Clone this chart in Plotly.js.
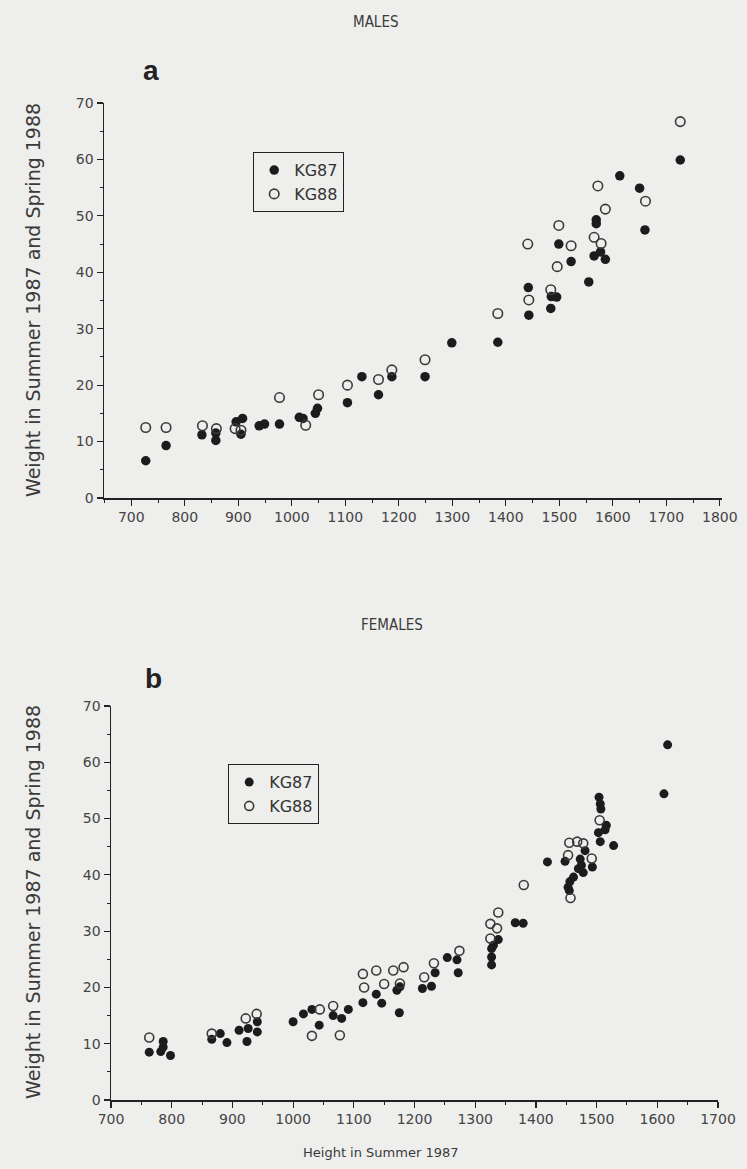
<!DOCTYPE html>
<html>
<head>
<meta charset="utf-8">
<script src="https://cdn.plot.ly/plotly-3.0.1.min.js"></script>
<style>html,body{margin:0;padding:0;background:#eeeeec;}#chart{width:747px;height:1169px;}</style>
</head>
<body>
<div id="chart"></div>
<script>
// ---- Data ----
var malesKG87Height = [727,765,832,858,858,896,908,905,939,949,977,1014,1021,1044,1048,1104,1131,1162,1187,1249,1299,1385,1443,1442,1484,1485,1495,1499,1522,1555,1565,1569,1569,1577,1586,1613,1650,1660,1726];
var malesKG87Weight = [6.6,9.3,11.2,11.5,10.2,13.5,14.1,11.3,12.8,13.1,13.1,14.3,14.1,15.0,15.9,16.9,21.5,18.3,21.5,21.5,27.5,27.6,32.4,37.3,33.6,35.7,35.6,45.0,41.9,38.3,42.9,49.3,48.6,43.6,42.3,57.1,54.9,47.5,59.9];
var malesKG88Height = [727,765,833,859,894,905,977,1026,1050,1104,1162,1187,1249,1385,1443,1484,1496,1499,1441,1522,1565,1578,1572,1586,1661,1726];
var malesKG88Weight = [12.5,12.5,12.8,12.3,12.3,12.0,17.8,12.9,18.3,20.0,21.0,22.7,24.5,32.7,35.1,36.9,41.0,48.3,45.0,44.7,46.2,45.1,55.3,51.2,52.6,66.7];

var femalesKG87Height = [763,782,786,786,798,866,880,891,911,924,926,941,941,1000,1017,1031,1043,1066,1080,1091,1115,1137,1146,1171,1176,1175,1213,1228,1234,1254,1270,1272,1338,1330,1327,1327,1327,1366,1379,1419,1448,1453,1455,1456,1462,1470,1473,1475,1478,1481,1493,1503,1504,1506,1507,1506,1514,1516,1528,1611,1617];
var femalesKG87Weight = [8.5,8.6,10.4,9.4,7.9,10.8,11.8,10.2,12.4,10.4,12.7,13.9,12.1,13.9,15.3,16.1,13.3,15.0,14.5,16.1,17.3,18.8,17.2,19.5,20.1,15.5,19.8,20.2,22.6,25.3,24.9,22.6,28.5,27.5,26.9,25.4,24.0,31.5,31.4,42.3,42.4,37.8,37.2,38.8,39.6,41.1,42.8,41.7,40.4,44.3,41.4,47.5,53.8,52.6,51.7,45.9,48.0,48.8,45.2,54.4,63.1];
var femalesKG88Height = [763,866,922,940,1031,1044,1066,1077,1115,1117,1137,1150,1165,1182,1176,1216,1232,1274,1325,1338,1336,1325,1380,1453,1455,1468,1478,1492,1457,1505];
var femalesKG88Weight = [11.1,11.8,14.5,15.3,11.4,16.1,16.7,11.5,22.4,20.0,23.0,20.6,23.0,23.6,20.7,21.8,24.3,26.5,31.3,33.3,30.5,28.7,38.2,43.5,45.7,45.9,45.6,42.9,35.9,49.7];

var seriesNames = ['KG87', 'KG88'];
var yTickVals = [0,10,20,30,40,50,60,70];
var xTickValsTop = [700,800,900,1000,1100,1200,1300,1400,1500,1600,1700,1800];
var xTickValsBottom = [700,800,900,1000,1100,1200,1300,1400,1500,1600,1700];
var panelTitles = ['MALES', 'FEMALES'];
var panelLetters = ['a', 'b'];
var xTitle = 'Height in Summer 1987';
var yTitle = 'Weight in Summer 1987 and Spring 1988';

// ---- Layout helpers ----
var W = 747, H = 1169;
function px(x){ return x / W; }
function py(y){ return 1 - y / H; }

var ink = '#222';
var txt = '#3a3a3a';
var tickFont = {family: 'DejaVu Sans, sans-serif', size: 14, color: '#444'};

var filled = {symbol: 'circle', size: 9.5, color: '#1c1c1c', line: {width: 0}};
var open = {symbol: 'circle-open', size: 9.5, color: '#3a3a3a', line: {width: 1.6}};

var traces = [
  {x: malesKG87Height, y: malesKG87Weight, name: seriesNames[0], type: 'scatter', mode: 'markers', marker: filled, xaxis: 'x', yaxis: 'y', legend: 'legend'},
  {x: malesKG88Height, y: malesKG88Weight, name: seriesNames[1], type: 'scatter', mode: 'markers', marker: open, xaxis: 'x', yaxis: 'y', legend: 'legend'},
  {x: femalesKG87Height, y: femalesKG87Weight, name: seriesNames[0], type: 'scatter', mode: 'markers', marker: Object.assign({}, filled, {size: 9}), xaxis: 'x2', yaxis: 'y2', legend: 'legend2'},
  {x: femalesKG88Height, y: femalesKG88Weight, name: seriesNames[1], type: 'scatter', mode: 'markers', marker: Object.assign({}, open, {size: 9}), xaxis: 'x2', yaxis: 'y2', legend: 'legend2'}
];

function xAxis(domain, range, vals, anchor){
  return {domain: domain, range: range, anchor: anchor, tickvals: vals, ticktext: vals.map(String),
    showline: true, linecolor: ink, linewidth: 1.5, ticks: 'outside', ticklen: 6, tickwidth: 1.2, tickcolor: ink,
    minor: {dtick: 50, ticks: 'outside', ticklen: 3, tickwidth: 1, tickcolor: ink, showgrid: false},
    showgrid: false, zeroline: false, tickfont: tickFont, fixedrange: true};
}
function yAxis(domain, anchor){
  return {domain: domain, range: [0, 70], anchor: anchor, tickvals: yTickVals, ticktext: yTickVals.map(String),
    showline: true, linecolor: ink, linewidth: 1.5, ticks: 'outside', ticklen: 6, tickwidth: 1.2, tickcolor: ink,
    minor: {dtick: 5, ticks: 'outside', ticklen: 3, tickwidth: 1, tickcolor: ink, showgrid: false},
    showgrid: false, zeroline: false, tickfont: tickFont, fixedrange: true};
}

var legendFont = {family: 'DejaVu Sans, sans-serif', size: 16, color: '#333'};

function ann(text, x, y, size, opts){
  var a = {text: text, x: px(x), y: py(y), xref: 'paper', yref: 'paper', showarrow: false,
    xanchor: 'center', yanchor: 'middle',
    font: {family: 'DejaVu Sans Condensed, sans-serif', size: size, color: txt}};
  return Object.assign(a, opts || {});
}

var layout = {
  width: W, height: H,
  margin: {l: 0, r: 0, t: 0, b: 0},
  paper_bgcolor: '#eeeeec', plot_bgcolor: 'rgba(0,0,0,0)',
  showlegend: true,
  xaxis: xAxis([px(104), px(722)], [649, 1804], xTickValsTop, 'y'),
  yaxis: yAxis([py(498), py(103)], 'x'),
  xaxis2: xAxis([px(111), px(718)], [700, 1700], xTickValsBottom, 'y2'),
  yaxis2: yAxis([py(1100), py(706)], 'x2'),
  legend: {x: px(253), y: py(152), xanchor: 'left', yanchor: 'top', bgcolor: 'rgba(0,0,0,0)', bordercolor: ink, borderwidth: 1.2, font: legendFont, tracegroupgap: 0, itemwidth: 30},
  legend2: {x: px(228), y: py(764), xanchor: 'left', yanchor: 'top', bgcolor: 'rgba(0,0,0,0)', bordercolor: ink, borderwidth: 1.2, font: legendFont, tracegroupgap: 0, itemwidth: 30},
  annotations: [
    ann(panelTitles[0], 375, 22, 15),
    ann(panelTitles[1], 392, 625, 15),
    ann('<b>' + panelLetters[0] + '</b>', 151, 70, 28, {font: {family: 'Liberation Sans, Arial, sans-serif', size: 28, color: '#222'}}),
    ann('<b>' + panelLetters[1] + '</b>', 153, 678, 28, {font: {family: 'Liberation Sans, Arial, sans-serif', size: 28, color: '#222'}}),
    ann(yTitle, 33, 300, 19, {textangle: -90, font: {family: 'DejaVu Sans, sans-serif', size: 19, color: txt}}),
    ann(yTitle, 33, 902, 19, {textangle: -90, font: {family: 'DejaVu Sans, sans-serif', size: 19, color: txt}}),
    ann(xTitle, 380, 1152, 13, {font: {family: 'DejaVu Sans, sans-serif', size: 13, color: txt}})
  ]
};

Plotly.newPlot('chart', traces, layout, {displayModeBar: false, staticPlot: true});
</script>
</body>
</html>
